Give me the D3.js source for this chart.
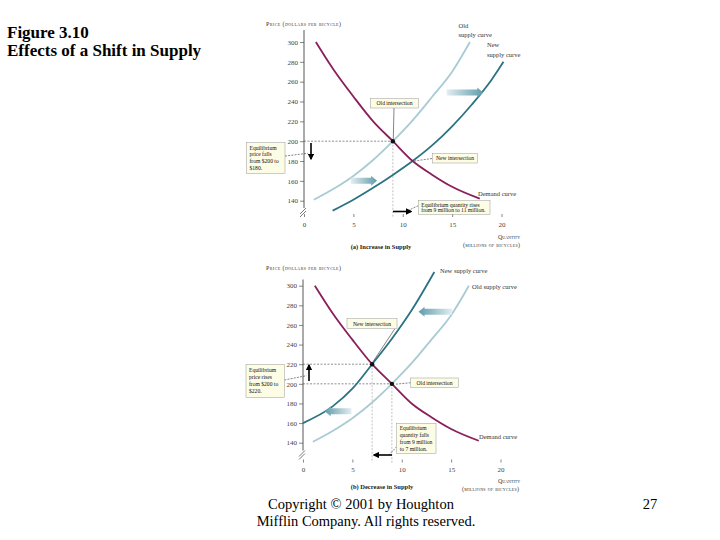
<!DOCTYPE html>
<html>
<head>
<meta charset="utf-8">
<script src="https://cdn.jsdelivr.net/npm/d3@7"></script>
<style>
  body { margin: 0; background: #fff; }
  svg text { font-family: "Liberation Serif", "Times New Roman", serif; }
</style>
</head>
<body>
<svg id="chart" width="720" height="540"></svg>
<script>
// Tick labels
const priceTicks = [140, 160, 180, 200, 220, 240, 260, 280, 300];
const quantityTicks = [0, 5, 10, 15, 20];

// Curves: quantity (millions of bicycles) and price (dollars per bicycle)
const demandQ = [1.2, 3, 5, 7, 9, 11, 13, 15, 17.8];
const demandP = [300, 272, 245, 220, 200, 180, 166, 154, 142];
const oldSupplyQ = [1, 3, 5, 7, 9, 11, 13, 15, 16.8];
const oldSupplyP = [141, 152, 165, 181, 200, 221, 245, 270, 300];
const incSupplyQ = [2.9, 5, 7, 9, 11, 13, 15, 17, 19, 20.2];
const incSupplyP = [130, 141, 153, 166, 180, 196, 215, 237, 262, 280];
const decSupplyQ = [0, 3, 5, 7, 9, 11, 13.3];
const decSupplyP = [160, 177, 195, 220, 246, 275, 314];

// Equilibrium points [quantity, price]
const oldEq = [9, 200];
const incEq = [11, 180];
const decEq = [7, 220];

const colors = {
  demand: '#8a1f5c',
  oldSupply: '#a8cbd5',
  newSupply: '#2b7382',
  box: '#fdfce4',
  text: '#333'
};

const svg = d3.select('#chart');

// Gradients for the block "shift" arrows
const defs = svg.append('defs');
[['shiftRight', 0, 1], ['shiftLeft', 1, 0]].forEach(([id, a, b]) => {
  const gr = defs.append('linearGradient').attr('id', id)
      .attr('x1', a).attr('x2', b).attr('y1', 0).attr('y2', 0);
  gr.append('stop').attr('offset', '0%').attr('stop-color', '#e2eef1');
  gr.append('stop').attr('offset', '100%').attr('stop-color', '#5f9cab');
});
defs.append('marker').attr('id', 'head')
    .attr('viewBox', '0 0 10 10').attr('refX', 8).attr('refY', 5)
    .attr('markerWidth', 4).attr('markerHeight', 4).attr('orient', 'auto')
  .append('path').attr('d', 'M0,0L10,5L0,10z').attr('fill', '#000');

// Page title and footer
svg.append('text').attr('x', 7).attr('y', 38)
    .attr('font-size', 17).attr('font-weight', 'bold').text('Figure 3.10');
svg.append('text').attr('x', 7).attr('y', 56)
    .attr('font-size', 17).attr('font-weight', 'bold').text('Effects of a Shift in Supply');
svg.append('text').attr('x', 361).attr('y', 509).attr('text-anchor', 'middle')
    .attr('font-size', 14.5).text('Copyright © 2001 by Houghton');
svg.append('text').attr('x', 366).attr('y', 526).attr('text-anchor', 'middle')
    .attr('font-size', 14.5).text('Mifflin Company. All rights reserved.');
svg.append('text').attr('x', 650).attr('y', 509).attr('text-anchor', 'middle')
    .attr('font-size', 14.5).text('27');

function drawPanel(p) {
  const x = d3.scaleLinear().domain([0, 20]).range(p.xRange);
  const y = d3.scaleLinear().domain([140, 300]).range(p.yRange);
  const g = svg.append('g');

  const line = d3.line()
      .x(d => x(d[0]))
      .y(d => y(d[1]))
      .curve(d3.curveMonotoneX);

  // Y axis
  const yAxis = d3.axisLeft(y).tickValues(priceTicks).tickSize(4).tickPadding(2).tickSizeOuter(0);
  const yAxisG = g.append('g').attr('transform', `translate(${x(0)},0)`).call(yAxis);
  yAxisG.select('.domain').remove();
  yAxisG.selectAll('line').attr('stroke', '#555').attr('stroke-width', 0.7);
  yAxisG.selectAll('text').attr('font-size', 7).attr('fill', '#444')
      .style('font-family', '"Liberation Serif", serif');
  g.append('line')
      .attr('x1', x(0)).attr('x2', x(0))
      .attr('y1', p.axisTop).attr('y2', p.axisBottom)
      .attr('stroke', '#444').attr('stroke-width', 0.9);
  // axis break marks
  [0, 3].forEach(off => {
    g.append('line')
        .attr('x1', x(0) - 4).attr('y1', p.axisBottom + 6 + off)
        .attr('x2', x(0) + 2).attr('y2', p.axisBottom + off)
        .attr('stroke', '#444').attr('stroke-width', 0.7);
  });

  // X axis (ticks only)
  const xAxis = d3.axisBottom(x).tickValues(quantityTicks).tickSize(-3).tickPadding(5).tickSizeOuter(0);
  const xAxisG = g.append('g').attr('transform', `translate(0,${p.baseline})`).call(xAxis);
  xAxisG.select('.domain').remove();
  xAxisG.selectAll('line').attr('stroke', '#555').attr('stroke-width', 0.7);
  xAxisG.selectAll('text').attr('font-size', 7).attr('fill', '#444')
      .style('font-family', '"Liberation Serif", serif');

  // Axis titles
  g.append('text').attr('x', p.priceLabel[0]).attr('y', p.priceLabel[1])
      .attr('font-size', 6).attr('fill', colors.text)
      .style('font-variant', 'small-caps').attr('textLength', 75)
      .text('Price (dollars per bicycle)');
  g.append('text').attr('x', p.qtyLabel[0]).attr('y', p.qtyLabel[1])
      .attr('font-size', 6).attr('fill', colors.text)
      .style('font-variant', 'small-caps').text('Quantity');
  g.append('text').attr('x', p.qtyLabel2[0]).attr('y', p.qtyLabel2[1])
      .attr('font-size', 6).attr('fill', colors.text)
      .style('font-variant', 'small-caps').attr('textLength', 57)
      .text('(millions of bicycles)');
  g.append('text').attr('x', p.caption[0]).attr('y', p.caption[1])
      .attr('text-anchor', 'middle').attr('font-size', 6.5).attr('font-weight', 'bold')
      .attr('fill', '#222').text(p.captionText);

  // Dashed guide lines to the equilibria
  p.equilibria.forEach(e => {
    g.append('line')
        .attr('x1', x(0)).attr('x2', x(e[0]))
        .attr('y1', y(e[1])).attr('y2', y(e[1]))
        .attr('stroke', '#444').attr('stroke-width', 0.6).attr('stroke-dasharray', '2,1.5');
    g.append('line')
        .attr('x1', x(e[0])).attr('x2', x(e[0]))
        .attr('y1', y(e[1])).attr('y2', p.baseline)
        .attr('stroke', '#999').attr('stroke-width', 0.6).attr('stroke-dasharray', '2,1.5');
  });

  // Curves
  p.curves.forEach(c => {
    g.append('path')
        .datum(d3.zip(c.q, c.p))
        .attr('d', line)
        .attr('fill', 'none')
        .attr('stroke', c.color)
        .attr('stroke-width', 1.8);
  });

  // Block shift arrows
  p.shifts.forEach(s => {
    const x0 = x(s.from), x1 = x(s.to), yy = y(s.price);
    const dir = Math.sign(x1 - x0);
    const hl = 6;
    const xb = x1 - dir * hl;
    const path = `M${x0},${yy - 3}L${xb},${yy - 3}L${xb},${yy - 5}L${x1},${yy}` +
                 `L${xb},${yy + 5}L${xb},${yy + 3}L${x0},${yy + 3}Z`;
    g.append('path').attr('d', path)
        .attr('fill', dir > 0 ? 'url(#shiftRight)' : 'url(#shiftLeft)');
  });

  // Leader lines
  p.leaders.forEach(l => {
    g.append('line')
        .attr('x1', l[0]).attr('y1', l[1]).attr('x2', l[2]).attr('y2', l[3])
        .attr('stroke', '#333').attr('stroke-width', 0.6)
        .attr('stroke-dasharray', l[4] ? '2,1.2' : null);
  });

  // Small black arrows
  p.arrows.forEach(a => {
    g.append('line')
        .attr('x1', a[0]).attr('y1', a[1]).attr('x2', a[2]).attr('y2', a[3])
        .attr('stroke', '#000').attr('stroke-width', 1.6)
        .attr('marker-end', 'url(#head)');
  });

  // Equilibrium dots
  p.equilibria.forEach(e => {
    g.append('circle').attr('cx', x(e[0])).attr('cy', y(e[1])).attr('r', 2.2).attr('fill', '#111');
  });

  // Annotation boxes
  p.boxes.forEach(b => {
    g.append('rect').attr('x', b.x).attr('y', b.y).attr('width', b.w).attr('height', b.h)
        .attr('fill', colors.box).attr('stroke', '#999').attr('stroke-width', 0.5);
    b.lines.forEach((t, i) => {
      g.append('text')
          .attr('x', b.center ? b.x + b.w / 2 : b.x + 3)
          .attr('y', b.y + b.top + i * b.lh)
          .attr('text-anchor', b.center ? 'middle' : 'start')
          .attr('font-size', 5.6).attr('fill', '#111').text(t);
    });
  });

  // Curve labels
  p.labels.forEach(l => {
    g.append('text').attr('x', l[0]).attr('y', l[1])
        .attr('font-size', 6.5).attr('fill', colors.text).text(l[2]);
  });
}

// Panel (a): increase in supply
drawPanel({
  xRange: [304, 501.5], yRange: [200.7, 42],
  axisTop: 30, axisBottom: 208, baseline: 217,
  priceLabel: [266, 26], qtyLabel: [498, 238.5], qtyLabel2: [463, 246.5],
  caption: [381, 248.5], captionText: '(a) Increase in Supply',
  equilibria: [oldEq],
  curves: [
    {q: oldSupplyQ, p: oldSupplyP, color: colors.oldSupply},
    {q: incSupplyQ, p: incSupplyP, color: colors.newSupply},
    {q: demandQ, p: demandP, color: colors.demand}
  ],
  shifts: [
    {from: 14.45, to: 18.15, price: 249},
    {from: 4.75, to: 7.4, price: 160}
  ],
  leaders: [
    [394, 106.5, 393.3, 139, false],
    [432, 158.5, 414.5, 161, true],
    [285, 156, 308, 153.3, true],
    [418.3, 205.7, 407, 211, true]
  ],
  arrows: [
    [311, 143, 311, 159],
    [393, 211.5, 411, 211.5]
  ],
  boxes: [
    {x: 370.5, y: 98.5, w: 48, h: 9.5, lines: ['Old intersection'], center: true, top: 6.8, lh: 0},
    {x: 432.5, y: 153.5, w: 45, h: 9.5, lines: ['New intersection'], center: true, top: 6.8, lh: 0},
    {x: 246.5, y: 142.5, w: 38.5, h: 31, lines: ['Equilibrium', 'price falls', 'from $200 to', '$180.'], top: 7, lh: 6.7},
    {x: 418.3, y: 200.7, w: 71.7, h: 13.6, lines: ['Equilibrium quantity rises', 'from 9 million to 11 million.'], top: 5.8, lh: 5.8}
  ],
  labels: [
    [458.5, 28, 'Old'], [458.5, 36.5, 'supply curve'],
    [487, 47, 'New'], [487, 56.5, 'supply curve'],
    [478, 195.5, 'Demand curve']
  ]
});

// Panel (b): decrease in supply
drawPanel({
  xRange: [303, 500.5], yRange: [442.7, 285.7],
  axisTop: 279.5, axisBottom: 450.5, baseline: 462.5,
  priceLabel: [266, 269.5], qtyLabel: [498, 483], qtyLabel2: [462, 490.5],
  caption: [382, 489], captionText: '(b) Decrease in Supply',
  equilibria: [decEq, oldEq],
  curves: [
    {q: oldSupplyQ, p: oldSupplyP, color: colors.oldSupply},
    {q: decSupplyQ, p: decSupplyP, color: colors.newSupply},
    {q: demandQ, p: demandP, color: colors.demand}
  ],
  shifts: [
    {from: 15.1, to: 11.7, price: 273.5},
    {from: 4.9, to: 2.2, price: 172}
  ],
  leaders: [
    [394.7, 329, 372.8, 362, false],
    [410.7, 382.7, 394.5, 384.3, true],
    [284.3, 380, 306.5, 375.7, true],
    [396.7, 446.7, 389, 455, true]
  ],
  arrows: [
    [309, 381, 309, 365],
    [392, 455, 374, 455]
  ],
  boxes: [
    {x: 347, y: 318.5, w: 50, h: 10, lines: ['New intersection'], center: true, top: 7, lh: 0},
    {x: 410.7, y: 378, w: 47.6, h: 9.5, lines: ['Old intersection'], center: true, top: 6.8, lh: 0},
    {x: 246, y: 364.3, w: 38.3, h: 33.4, lines: ['Equilibrium', 'price rises', 'from $200 to', '$220.'], top: 8, lh: 7},
    {x: 396.7, y: 423.3, w: 39.3, h: 30, lines: ['Equilibrium', 'quantity falls', 'from 9 million', 'to 7 million.'], top: 6.5, lh: 7}
  ],
  labels: [
    [440, 272.5, 'New supply curve'],
    [472, 288.5, 'Old supply curve'],
    [479, 438.5, 'Demand curve']
  ]
});
</script>
</body>
</html>
